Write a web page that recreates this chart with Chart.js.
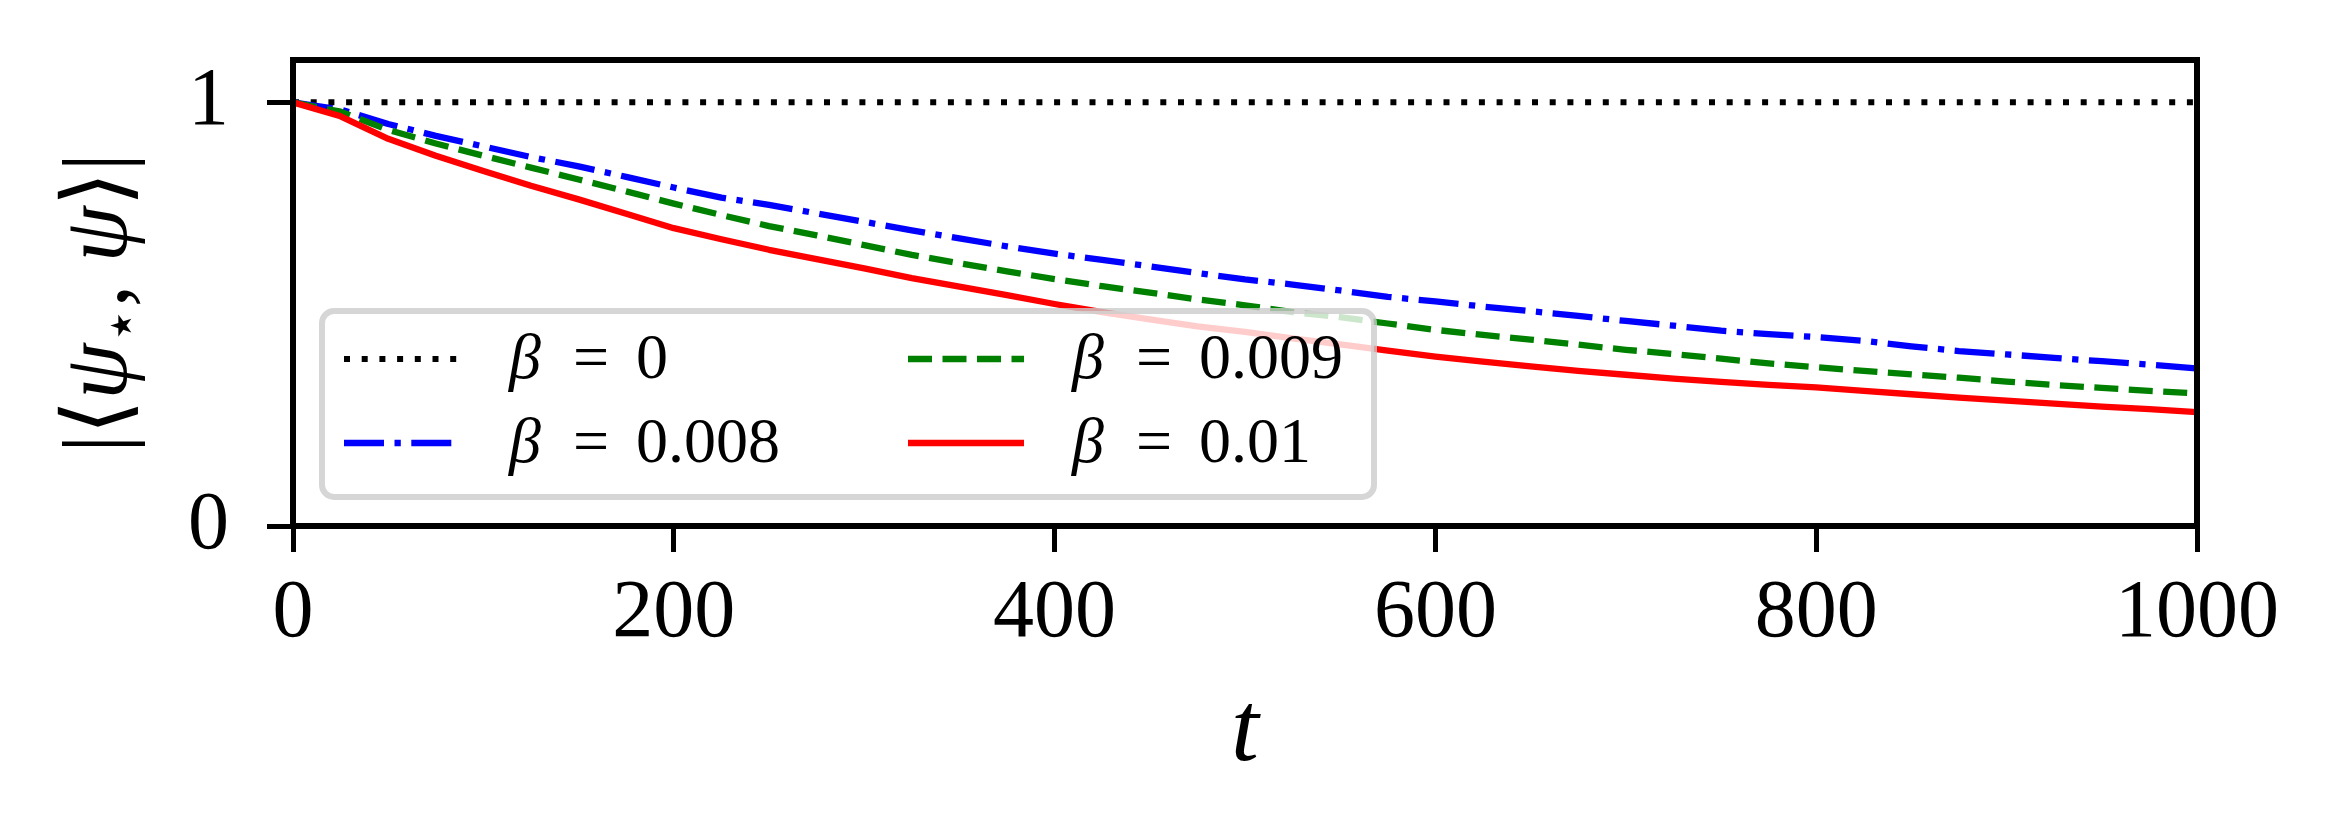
<!DOCTYPE html>
<html>
<head>
<meta charset="utf-8">
<script src="https://cdn.jsdelivr.net/npm/chart.js@4.4.1/dist/chart.umd.min.js"></script>
<style>
html,body{margin:0;padding:0;background:#ffffff;}
#wrap{width:2340px;height:840px;position:relative;}
</style>
</head>
<body>
<div id="wrap"><canvas id="c" width="2340" height="840"></canvas></div>
<script>
// ---------- data ----------
const tValues = [0,25,50,75,100,125,150,175,200,225,250,275,300,325,350,375,400,425,450,475,500,
                 525,550,575,600,625,650,675,700,725,750,775,800,825,850,875,900,925,950,975,1000];
const beta0 = [1,1,1,1,1,1,1,1,1,1,1,1,1,1,1,1,1,1,1,1,1,1,1,1,1,1,1,1,1,1,1,1,1,1,1,1,1,1,1,1,1];
const beta008 = [1.000,0.983,0.949,0.921,0.896,0.871,0.849,0.824,0.799,0.775,0.758,0.738,0.718,0.698,0.679,0.660,0.643,0.628,0.613,0.597,0.582,
                 0.570,0.556,0.541,0.530,0.518,0.507,0.496,0.484,0.473,0.461,0.453,0.446,0.437,0.424,0.413,0.405,0.397,0.389,0.381,0.372];
const beta009 = [1.000,0.978,0.935,0.903,0.874,0.846,0.818,0.790,0.761,0.734,0.708,0.686,0.663,0.640,0.620,0.601,0.583,0.566,0.551,0.535,0.521,
                 0.505,0.493,0.478,0.463,0.451,0.440,0.428,0.416,0.406,0.395,0.384,0.375,0.366,0.358,0.350,0.341,0.333,0.326,0.319,0.313];
const beta01  = [1.000,0.967,0.914,0.874,0.838,0.803,0.771,0.737,0.703,0.677,0.652,0.630,0.608,0.585,0.565,0.545,0.524,0.505,0.488,0.471,0.458,
                 0.443,0.429,0.414,0.400,0.388,0.377,0.366,0.357,0.348,0.340,0.333,0.327,0.319,0.311,0.303,0.296,0.289,0.282,0.276,0.269];
const seriesValues = ['0', '0.008', '0.009', '0.01'];
const xTickValues = [0,200,400,600,800,1000];
const yTickValues = [0,1];
const xTitle = 't';

// ---------- styles ----------
const SERIF = '"Liberation Serif", "DejaVu Serif", "DejaVu Sans", serif';
const LW = 6.3;
const styles = [
  {color:'#000000', dash:[6,11.7], lw:6, order:3},
  {color:'#0000ff', dash:[40,10.5,6.3,10.5], lw:LW, order:2},
  {color:'#008000', dash:[24,10.5], lw:LW, order:1},
  {color:'#ff0000', dash:[], lw:LW, order:0}
];
const seriesData = [beta0, beta008, beta009, beta01];

const datasets = seriesData.map((vals, i) => ({
  label: 'β = ' + seriesValues[i],
  data: tValues.map((t, k) => ({x: t, y: vals[k]})),
  borderColor: styles[i].color,
  backgroundColor: styles[i].color,
  borderWidth: styles[i].lw,
  borderDash: styles[i].dash,
  borderCapStyle: 'butt',
  borderJoinStyle: 'round',
  pointRadius: 0,
  tension: 0,
  fill: false,
  order: styles[i].order
}));

// ---------- custom drawing plugin: frame, legend, axis titles ----------
const decor = {
  id: 'decor',
  afterDatasetsDraw(chart) {
    const ctx = chart.ctx;
    const a = chart.chartArea;
    // frame (spines)
    ctx.save();
    ctx.strokeStyle = '#000';
    ctx.lineWidth = 6;
    ctx.lineJoin = 'miter';
    ctx.strokeRect(a.left, a.top, a.right - a.left, a.bottom - a.top);
    ctx.restore();

    // legend
    ctx.save();
    const bx = 322, by = 311, bw = 1052, bh = 186, r = 12;
    ctx.beginPath();
    ctx.moveTo(bx + r, by);
    ctx.lineTo(bx + bw - r, by);
    ctx.arcTo(bx + bw, by, bx + bw, by + r, r);
    ctx.lineTo(bx + bw, by + bh - r);
    ctx.arcTo(bx + bw, by + bh, bx + bw - r, by + bh, r);
    ctx.lineTo(bx + r, by + bh);
    ctx.arcTo(bx, by + bh, bx, by + bh - r, r);
    ctx.lineTo(bx, by + r);
    ctx.arcTo(bx, by, bx + r, by, r);
    ctx.closePath();
    ctx.fillStyle = 'rgba(255,255,255,0.8)';
    ctx.fill();
    ctx.strokeStyle = 'rgba(204,204,204,0.8)';
    ctx.lineWidth = 6;
    ctx.stroke();

    // entries: column-wise fill (ncol = 2)
    const cols = [{hx0:344, hx1:460, tx:509}, {hx0:908, hx1:1024, tx:1072}];
    const rows = [{ly:359, base:378}, {ly:443, base:462}];
    const fs = 64;
    chart.data.datasets.forEach((ds, i) => {
      const c = cols[Math.floor(i / 2)], rw = rows[i % 2];
      ctx.beginPath();
      ctx.setLineDash(ds.borderDash || []);
      ctx.lineDashOffset = 0;
      ctx.lineCap = 'butt';
      ctx.strokeStyle = ds.borderColor;
      ctx.lineWidth = ds.borderWidth;
      ctx.moveTo(c.hx0, rw.ly);
      ctx.lineTo(c.hx1, rw.ly);
      ctx.stroke();
      ctx.setLineDash([]);
      ctx.fillStyle = '#000';
      ctx.textBaseline = 'alphabetic';
      ctx.textAlign = 'left';
      ctx.font = 'italic ' + fs + 'px ' + SERIF;
      ctx.fillText('β', c.tx, rw.base);
      ctx.font = fs + 'px ' + SERIF;
      ctx.textAlign = 'center';
      ctx.fillText('=', c.tx + 82, rw.base);
      ctx.textAlign = 'left';
      ctx.fillText(seriesValues[i], c.tx + 127, rw.base);
    });
    ctx.restore();
  },
  afterDraw(chart) {
    const ctx = chart.ctx;
    const a = chart.chartArea;
    ctx.save();
    // x title
    ctx.fillStyle = '#000';
    ctx.font = 'italic 100px ' + SERIF;
    ctx.textAlign = 'center';
    ctx.textBaseline = 'alphabetic';
    ctx.fillText(xTitle, (a.left + a.right) / 2, 760);

    // y title: |<psi_*, psi>|
    const F = 90;
    const segs = [
      {t:'|', f:F + 'px ' + SERIF, dy:0},
      {t:'⟨', f:F + 'px ' + SERIF, dy:0},
      {t:'ψ', f:'italic ' + F + 'px ' + SERIF, dy:0},
      {t:'⋆', f:'58px ' + SERIF, dy:14},
      {t:', ', f:F + 'px ' + SERIF, dy:0},
      {t:'ψ', f:'italic ' + F + 'px ' + SERIF, dy:0},
      {t:'⟩', f:F + 'px ' + SERIF, dy:0},
      {t:'|', f:F + 'px ' + SERIF, dy:0}
    ];
    let total = 0;
    segs.forEach(s => { ctx.font = s.f; s.w = ctx.measureText(s.t).width; total += s.w; });
    ctx.translate(126, 303);
    ctx.rotate(-Math.PI / 2);
    ctx.textAlign = 'left';
    let x = -total / 2;
    segs.forEach(s => { ctx.font = s.f; ctx.fillText(s.t, x, s.dy); x += s.w; });
    ctx.restore();
  }
};

function fixPad(s) { s.paddingTop = 0; s.paddingBottom = 0; s.paddingLeft = 0; s.paddingRight = 0; }

new Chart(document.getElementById('c'), {
  type: 'line',
  data: { datasets },
  options: {
    responsive: false,
    animation: false,
    devicePixelRatio: 1,
    layout: { padding: { top: 60, right: 143, left: 0, bottom: 0 } },
    plugins: { legend: { display: false }, tooltip: { enabled: false } },
    scales: {
      x: {
        type: 'linear',
        min: 0, max: 1000,
        afterFit: s => { s.height = 314; fixPad(s); },
        afterBuildTicks: s => { s.ticks = xTickValues.map(v => ({value: v})); },
        border: { display: false },
        grid: { display: true, drawOnChartArea: false, drawTicks: true, tickLength: 26, tickWidth: 5, tickColor: '#000' },
        ticks: { color: '#000', padding: 13, maxRotation: 0, font: { family: SERIF, size: 82 },
                 callback: v => String(v) }
      },
      y: {
        type: 'linear',
        min: 0, max: 1.1,
        afterFit: s => { s.width = 293; fixPad(s); },
        afterBuildTicks: s => { s.ticks = yTickValues.map(v => ({value: v})); },
        border: { display: false },
        grid: { display: true, drawOnChartArea: false, drawTicks: true, tickLength: 26, tickWidth: 5, tickColor: '#000' },
        ticks: { color: '#000', padding: 38, font: { family: SERIF, size: 82 },
                 callback: v => String(v) }
      }
    }
  },
  plugins: [decor]
});
</script>
</body>
</html>
